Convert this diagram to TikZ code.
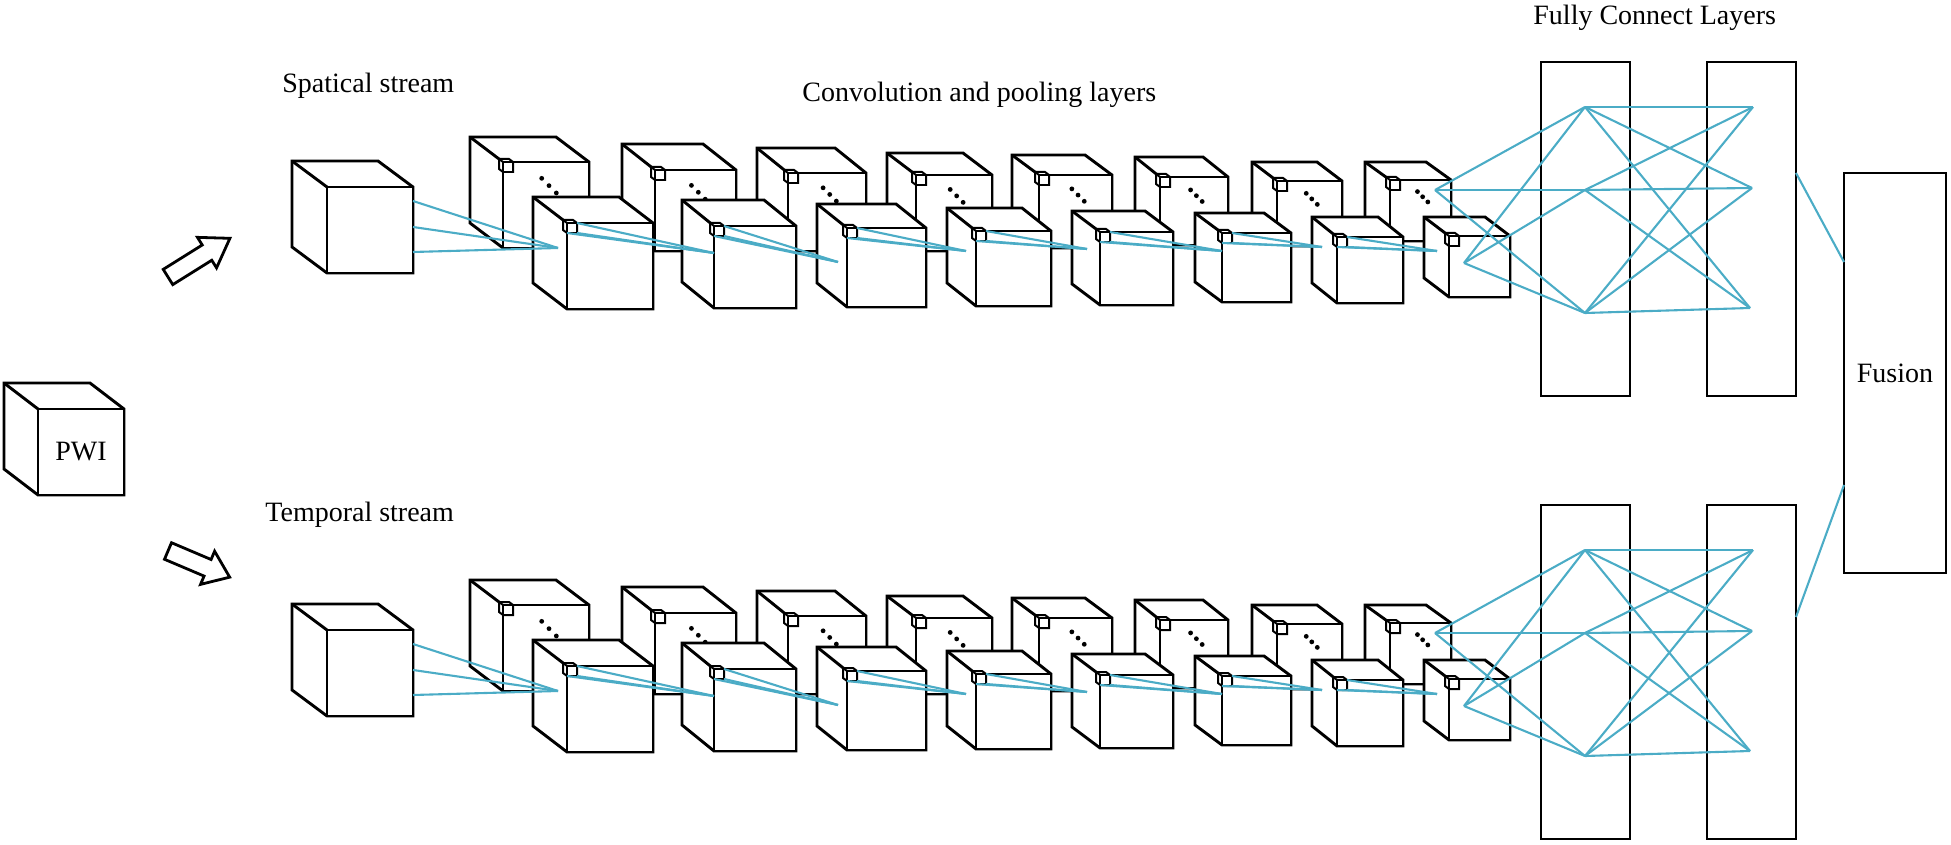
\documentclass[tikz,border=0pt]{standalone}
\usepackage{fontspec}
\setmainfont{Liberation Serif}

\definecolor{linkblue}{RGB}{75,172,198}

\tikzset{
  cubeline/.style={line width=1.45pt},
  face/.style={cubeline, draw, fill=white, inner sep=0pt, outer sep=0pt, anchor=north west},
  kernel/.style={line width=1pt},
  layerbox/.style={draw, line width=1.4pt, inner sep=0pt, outer sep=0pt, anchor=north west},
  link/.style={draw=linkblue, line width=1.05pt},
  caption/.style={font=\fontsize{14}{16}\selectfont, inner sep=0pt},
  blockarrow/.style={draw, line width=1.4pt, fill=white},
}

% \cube[opts]{name}{x}{y}{size}{dx}{dy}
\newcommand{\cube}[7][]{%
  \filldraw[cubeline, fill=white, #1] (#3,#4+#5) -- (#3+#5,#4+#5) -- (#3+#5,#4)
    -- (#3+#5-#6,#4-#7) -- (#3-#6,#4-#7) -- (#3-#6,#4+#5-#7) -- cycle;
  \node[face, #1, minimum size=#5*0.5pt] (#2) at (#3,#4) {};
  \draw[cubeline, #1] (#2.north west) -- ++(-#6,-#7);
}

\begin{document}
\begin{tikzpicture}[x=0.5pt,y=-0.5pt]
  \useasboundingbox (0,0) rectangle (1951,845);

  \cube{pwi}{38}{409}{86}{34}{26}
  \node[caption] (pwilbl) at (pwi.center) {PWI};

  \draw[blockarrow, shift={(168,277)}, rotate=32]
    (0,-9) -- (46,-9) -- (46,-18) -- (73,0) -- (46,18) -- (46,9) -- (0,9) -- cycle;
  \draw[blockarrow, shift={(168,551)}, rotate=-23]
    (0,-9) -- (43,-9) -- (43,-18) -- (67,0) -- (43,18) -- (43,9) -- (0,9) -- cycle;

  \node[caption, anchor=base west] (spatial) at (282,93) {Spatical stream};
  \node[caption, anchor=base west] (temporal) at (265,522) {Temporal stream};
  \node[caption, anchor=base west] (convlbl) at (802,102) {Convolution and pooling layers};
  \node[caption, anchor=base west] (fclbl) at (1533,25) {Fully Connect Layers};

  \foreach \r/\oy in {s/0,t/443} {
    \cube{\r-in}{327}{187+\oy}{86}{35}{26}

    \foreach \i/\px/\py/\s/\dx/\dy in {1/503/162/86/33/25, 2/655/170/81/33/26,
        3/788/173/78/31/25, 4/916/175/76/29/22, 5/1039/175/73/27/20,
        6/1160/177/68/25/20, 7/1277/181/65/25/19, 8/1390/180/61/25/18} {
      \cube{\r-b\i}{\px}{\py+\oy}{\s}{\dx}{\dy}
      \cube[kernel]{\r-kb\i}{\px}{\py+\oy}{10}{4}{3}
      \foreach \k in {0,1,2}
        \fill (\px+0.45*\s+0.085*\s*\k, \py+\oy+0.19*\s+0.085*\s*\k) circle[radius=1.2pt];
    }

    \foreach \i/\px/\py/\s/\dx/\dy in {1/567/223/86/34/26, 2/714/226/82/32/26,
        3/847/228/79/30/24, 4/976/231/75/29/23, 5/1100/232/73/28/21,
        6/1222/233/69/27/20, 7/1337/237/66/25/20, 8/1449/236/61/25/19} {
      \cube{\r-f\i}{\px}{\py+\oy}{\s}{\dx}{\dy}
      \cube[kernel]{\r-kf\i}{\px}{\py+\oy}{10}{4}{3}
    }

    \node[layerbox, minimum width=44.5pt, minimum height=167pt] (\r-fc1) at (1541,62+\oy) {};
    \node[layerbox, minimum width=44.5pt, minimum height=167pt] (\r-fc2) at (1707,62+\oy) {};

    \foreach \i/\px/\py in {0/558/248, 1/714/253, 2/838/262, 3/966/251,
        4/1087/249, 5/1222/251, 6/1322/247, 7/1437/251}
      \coordinate (\r-p\i) at (\px,\py+\oy);
    \coordinate (\r-ia) at (1435,190+\oy);
    \coordinate (\r-ib) at (1464,263+\oy);
    \coordinate (\r-l1) at (1585,107+\oy);
    \coordinate (\r-l2) at (1585,190+\oy);
    \coordinate (\r-l3) at (1585,313+\oy);
    \coordinate (\r-r1) at (1753,107+\oy);
    \coordinate (\r-r2) at (1752,188+\oy);
    \coordinate (\r-r3) at (1750,308+\oy);

    \begin{scope}[link]
      \foreach \h in {7,20,32.5}
        \draw ([yshift=-\h pt]\r-in.north east) -- (\r-p0);
      \foreach \i in {1,...,7}
        \foreach \a in {north east,south east,south west}
          \draw (\r-kf\i.\a) -- (\r-p\i);
      \foreach \a in {ia,ib}
        \foreach \b in {l1,l2,l3}
          \draw (\r-\a) -- (\r-\b);
      \foreach \a in {l1,l2,l3}
        \foreach \b in {r1,r2,r3}
          \draw (\r-\a) -- (\r-\b);
    \end{scope}
  }

  \node[layerbox, caption, minimum width=51pt, minimum height=200pt] (fusion) at (1844,173) {Fusion};
  \begin{scope}[link]
    \draw ([yshift=-55.5pt]s-fc2.north east) -- ([yshift=-44.5pt]fusion.north west);
    \draw ([yshift=-56pt]t-fc2.north east) -- ([yshift=44pt]fusion.south west);
  \end{scope}
\end{tikzpicture}
\end{document}
